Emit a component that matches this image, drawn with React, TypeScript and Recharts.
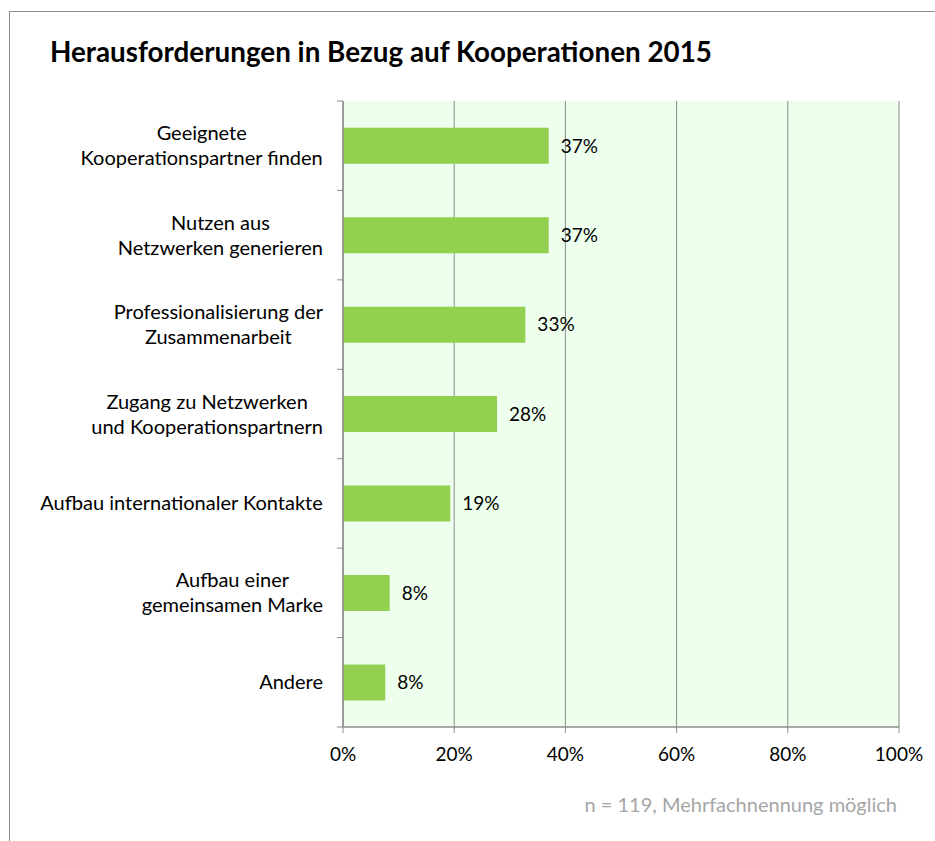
import React from 'react';
import { BarChart, Bar, XAxis, YAxis, CartesianGrid, LabelList } from 'recharts';

// survey categories, one line break where the original wraps
const categories = [
  'Geeignete\nKooperationspartner finden',
  'Nutzen aus\nNetzwerken generieren',
  'Professionalisierung der\nZusammenarbeit',
  'Zugang zu Netzwerken\nund Kooperationspartnern',
  'Aufbau internationaler Kontakte',
  'Aufbau einer\ngemeinsamen Marke',
  'Andere',
];
// share of respondents in percent (n = 119)
const shares = [37.0, 37.0, 32.8, 27.7, 19.3, 8.4, 7.6];
const xTicks = [0, 20, 40, 60, 80, 100];

const TITLE = 'Herausforderungen in Bezug auf Kooperationen 2015';
const NOTE = 'n = 119, Mehrfachnennung möglich';

const data = categories.map((name, i) => ({ name, share: shares[i] }));

const W = 935;
const H = 841;
const PLOT = { left: 343, top: 101, right: 899, bottom: 727 };
const FONT = 'Lato, "Open Sans", sans-serif';
const LABEL_SIZE = 20;
const NUM_SIZE = 19;
const LINE_H = 25;
const GRID = '#8C8C8C';

let measureCtx: CanvasRenderingContext2D | null = null;
function textWidth(s: string) {
  if (!measureCtx) measureCtx = document.createElement('canvas').getContext('2d');
  if (!measureCtx) return s.length * LABEL_SIZE * 0.5;
  measureCtx.font = `${LABEL_SIZE}px Lato`;
  return measureCtx.measureText(s).width;
}

function CategoryTick(props: any) {
  const { y, payload, index } = props;
  const lines = String(payload.value).split('\n');
  const maxW = Math.max(...lines.map(textWidth));
  const cx = PLOT.left - 20 - maxW / 2;
  const band = (PLOT.bottom - PLOT.top) / categories.length;
  const y0 = y - ((lines.length - 1) * LINE_H) / 2;
  return (
    <g>
      <line x1={PLOT.left - 6} x2={PLOT.left} y1={y - band / 2} y2={y - band / 2} stroke={GRID} />
      {index === categories.length - 1 && (
        <line x1={PLOT.left - 6} x2={PLOT.left} y1={y + band / 2} y2={y + band / 2} stroke={GRID} />
      )}
      <text x={cx} textAnchor="middle" fontFamily={FONT} fontSize={LABEL_SIZE} fill="#000">
        {lines.map((l, i) => (
          <tspan key={i} x={cx} y={y0 + i * LINE_H} dy="0.35em">
            {l}
          </tspan>
        ))}
      </text>
    </g>
  );
}

export default function App() {
  return (
    <div style={{ position: 'absolute', left: 0, top: 0, width: W, height: H, background: '#fff' }}>
      <BarChart
        width={W}
        height={H}
        data={data}
        layout="vertical"
        barCategoryGap="30%"
        margin={{ top: PLOT.top, right: W - PLOT.right, bottom: H - PLOT.bottom - 30, left: 0 }}
      >
        <CartesianGrid horizontal={false} stroke={GRID} fill="#EEFFEE" />
        <XAxis
          type="number"
          domain={[0, 100]}
          ticks={xTicks}
          height={30}
          tickFormatter={(v) => `${v}%`}
          axisLine={{ stroke: GRID, strokeWidth: 1.5 }}
          tickLine={{ stroke: GRID }}
          tickSize={6}
          tickMargin={15}
          tick={{ fill: '#000', fontSize: NUM_SIZE, fontFamily: FONT }}
        />
        <YAxis
          type="category"
          dataKey="name"
          width={PLOT.left}
          axisLine={{ stroke: GRID, strokeWidth: 1.5 }}
          tickLine={false}
          interval={0}
          tick={<CategoryTick />}
        />
        <Bar dataKey="share" fill="#92D050" isAnimationActive={false}>
          <LabelList
            dataKey="share"
            position="right"
            offset={12}
            formatter={(v: any) => `${Math.round(Number(v))}%`}
            fill="#000"
            fontSize={NUM_SIZE}
            fontFamily={FONT}
          />
        </Bar>
      </BarChart>
      <svg width={W} height={H} style={{ position: 'absolute', left: 0, top: 0, pointerEvents: 'none' }}>
        <rect x={9.5} y={11.5} width={W} height={H} fill="none" stroke="#8C8C8C" />
        <text x={50} y={62} fontFamily={FONT} fontWeight="bold" fontSize={27.8} fill="#000">
          {TITLE}
        </text>
        <text x={897} y={812} textAnchor="end" fontFamily={FONT} fontSize={LABEL_SIZE} fill="#A6A6A6">
          {NOTE}
        </text>
      </svg>
    </div>
  );
}
